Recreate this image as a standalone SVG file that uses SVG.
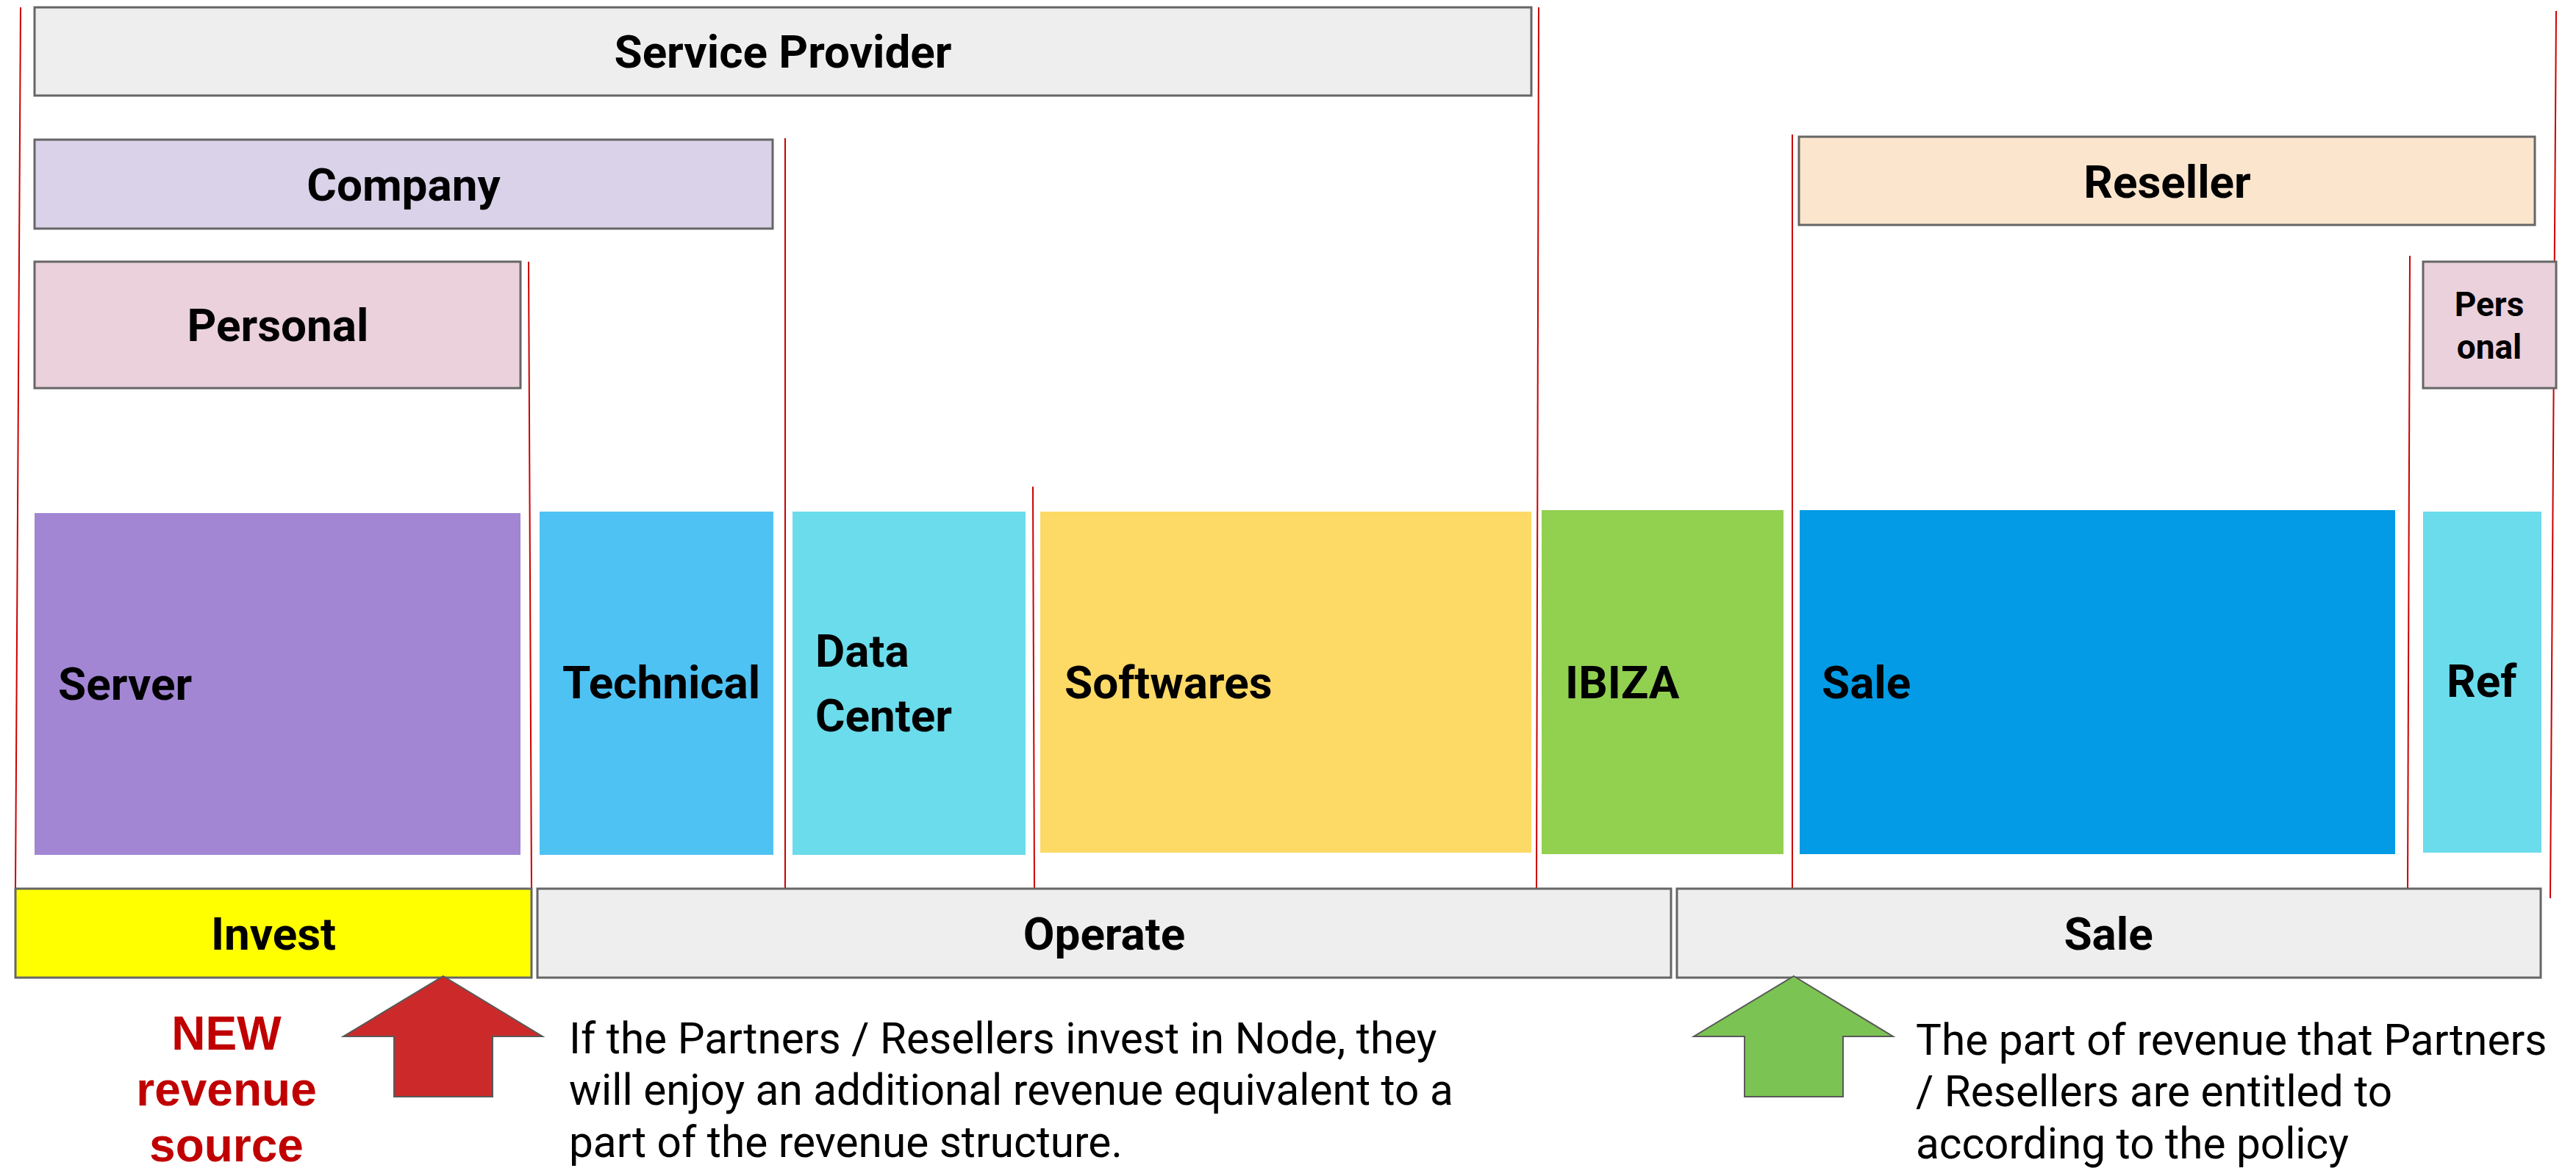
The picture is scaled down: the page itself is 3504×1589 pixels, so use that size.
<svg xmlns="http://www.w3.org/2000/svg" width="3504" height="1589" viewBox="0 0 3504 1589">
<style>
.bx{stroke:#666666;stroke-width:3}
.lbl{font-family:Roboto,"Liberation Sans",sans-serif;font-weight:bold;font-size:62px;fill:#000}
.mid{text-anchor:middle}
.desc{font-family:Roboto,"Liberation Sans",sans-serif;font-size:58.5px;fill:#000}
.new{font-family:"Liberation Sans",Arial,sans-serif;font-weight:bold;font-size:64px;fill:#C00000;text-anchor:middle}
.rl{stroke:#CC0000;stroke-width:2;fill:none}
.arr{stroke:#595959;stroke-width:2}
</style>
<rect width="3504" height="1589" fill="#FFFFFF"/>
<g id="connectors">
<line class="rl" x1="28" y1="10" x2="21" y2="1209"/>
<line class="rl" x1="719" y1="356" x2="723" y2="1209"/>
<line class="rl" x1="1068" y1="188" x2="1068" y2="1209"/>
<line class="rl" x1="1405" y1="662" x2="1407" y2="1209"/>
<line class="rl" x1="2093" y1="10" x2="2090" y2="1209"/>
<line class="rl" x1="2438" y1="183" x2="2438" y2="1209"/>
<line class="rl" x1="3278" y1="348" x2="3275" y2="1209"/>
<line class="rl" x1="3477" y1="15" x2="3469" y2="1222"/>
</g>
<g id="service-provider"><rect class="bx" x="47" y="10" width="2036" height="120" fill="#EEEEEE"/><text class="lbl mid" x="1065" y="92">Service Provider</text></g>
<g id="company"><rect class="bx" x="47" y="190" width="1004" height="121" fill="#D9D2E9"/><text class="lbl mid" x="549" y="273">Company</text></g>
<g id="personal"><rect class="bx" x="47" y="356" width="661" height="172" fill="#EAD1DC"/><text class="lbl mid" x="378" y="464">Personal</text></g>
<g id="reseller"><rect class="bx" x="2447" y="186" width="1001" height="120" fill="#FCE5CD"/><text class="lbl mid" x="2948" y="269">Reseller</text></g>
<g id="personal-2"><rect class="bx" x="3296" y="356" width="181" height="172" fill="#EAD1DC"/><text class="lbl mid" x="3386" y="430" style="font-size:46px">Pers</text><text class="lbl mid" x="3386" y="488" style="font-size:46px">onal</text></g>
<g id="server"><rect x="47" y="698" width="661" height="465" fill="#A286D4"/><text class="lbl" x="79" y="952">Server</text></g>
<g id="technical"><rect x="734" y="696" width="318" height="467" fill="#4FC2F4"/><text class="lbl" x="765" y="950">Technical</text></g>
<g id="data-center"><rect x="1078" y="696" width="317" height="467" fill="#6BDCEB"/><text class="lbl" x="1109" y="907">Data</text><text class="lbl" x="1109" y="995">Center</text></g>
<g id="softwares"><rect x="1415" y="696" width="668" height="464" fill="#FDD966"/><text class="lbl" x="1448" y="950">Softwares</text></g>
<g id="ibiza"><rect x="2097" y="694" width="329" height="468" fill="#92D050"/><text class="lbl" x="2129" y="950">IBIZA</text></g>
<g id="sale-node"><rect x="2448" y="694" width="810" height="468" fill="#039BE5"/><text class="lbl" x="2478" y="950">Sale</text></g>
<g id="ref"><rect x="3296" y="696" width="161" height="464" fill="#6BDCEB"/><text class="lbl" x="3328" y="948">Ref</text></g>
<g id="invest"><rect class="bx" x="21" y="1209" width="702" height="121" fill="#FFFF00"/><text class="lbl mid" x="372" y="1292">Invest</text></g>
<g id="operate"><rect class="bx" x="731" y="1209" width="1542" height="121" fill="#EEEEEE"/><text class="lbl mid" x="1502" y="1292">Operate</text></g>
<g id="sale-phase"><rect class="bx" x="2281" y="1209" width="1175" height="121" fill="#EEEEEE"/><text class="lbl mid" x="2868" y="1292">Sale</text></g>
<g id="red-arrow"><polygon class="arr" fill="#CC2A2A" points="603,1328 738,1410 670,1410 670,1492 536,1492 536,1410 467,1410"/></g>
<g id="green-arrow"><polygon class="arr" fill="#7BC453" points="2440,1328 2575,1410 2507,1410 2507,1492 2373,1492 2373,1410 2304,1410"/></g>
<g id="new-revenue"><text class="new" x="308" y="1428">NEW</text><text class="new" x="308" y="1504">revenue</text><text class="new" x="308" y="1580">source</text></g>
<g id="invest-note"><text class="desc" x="774" y="1433">If the Partners / Resellers invest in Node, they</text><text class="desc" x="774" y="1503">will enjoy an additional revenue equivalent to a</text><text class="desc" x="774" y="1574">part of the revenue structure.</text></g>
<g id="sale-note"><text class="desc" x="2606" y="1435">The part of revenue that Partners</text><text class="desc" x="2606" y="1505">/ Resellers are entitled to</text><text class="desc" x="2606" y="1576">according to the policy</text></g>
</svg>
